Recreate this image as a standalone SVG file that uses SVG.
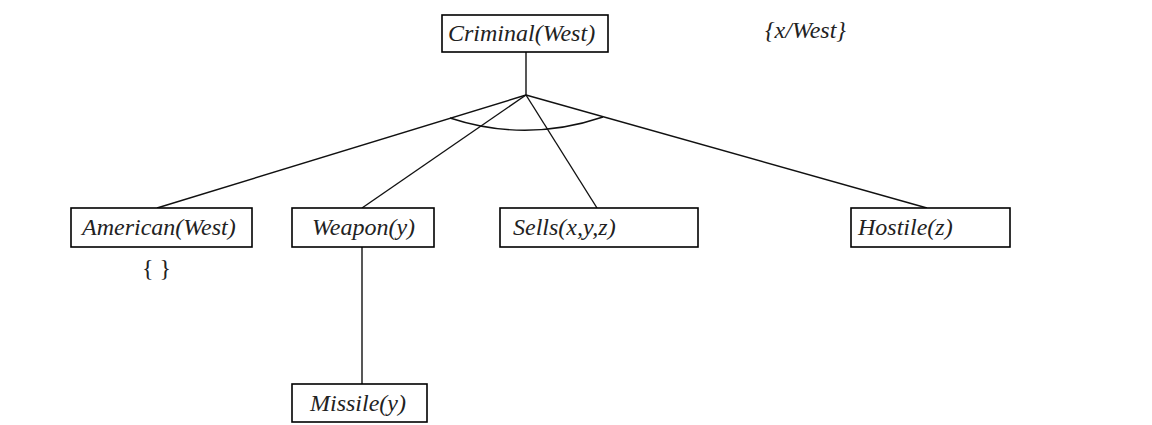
<svg xmlns="http://www.w3.org/2000/svg" width="1152" height="425" viewBox="0 0 1152 425">
<style>
.box{fill:#fff;stroke:#000;stroke-width:1.6}
.lbl{font-family:"Liberation Serif","Times New Roman",serif;font-style:italic;font-size:24px;fill:#222}
.ln{stroke:#111;stroke-width:1.4;fill:none}
</style>
<rect width="1152" height="425" fill="#fff"/>
<g id="connectors">
<line class="ln" x1="526" y1="52" x2="526" y2="95"/>
<line class="ln" x1="526" y1="95" x2="157" y2="208"/>
<line class="ln" x1="526" y1="95" x2="362" y2="208"/>
<line class="ln" x1="526" y1="95" x2="597" y2="208"/>
<line class="ln" x1="526" y1="95" x2="927" y2="208"/>
<path class="ln" d="M450,118 Q526,143 603,117"/>
<line class="ln" x1="362" y1="247" x2="362" y2="384"/>
</g>
<g id="criminal">
<rect class="box" x="442" y="15" width="166" height="37"/>
<text class="lbl" x="448" y="41">Criminal(West)</text>
</g>
<g id="subst">
<text class="lbl" x="765" y="38">{x/West}</text>
</g>
<g id="american">
<rect class="box" x="71" y="208" width="181" height="39"/>
<text class="lbl" x="82" y="235">American(West)</text>
<text class="lbl" x="142" y="276" style="font-style:normal">{ }</text>
</g>
<g id="weapon">
<rect class="box" x="292" y="208" width="142" height="39"/>
<text class="lbl" x="312" y="235">Weapon(y)</text>
</g>
<g id="sells">
<rect class="box" x="500" y="208" width="198" height="39"/>
<text class="lbl" x="513" y="235">Sells(x,y,z)</text>
</g>
<g id="hostile">
<rect class="box" x="851" y="208" width="159" height="39"/>
<text class="lbl" x="858" y="235">Hostile(z)</text>
</g>
<g id="missile">
<rect class="box" x="292" y="384" width="135" height="38"/>
<text class="lbl" x="310" y="411">Missile(y)</text>
</g>
</svg>
